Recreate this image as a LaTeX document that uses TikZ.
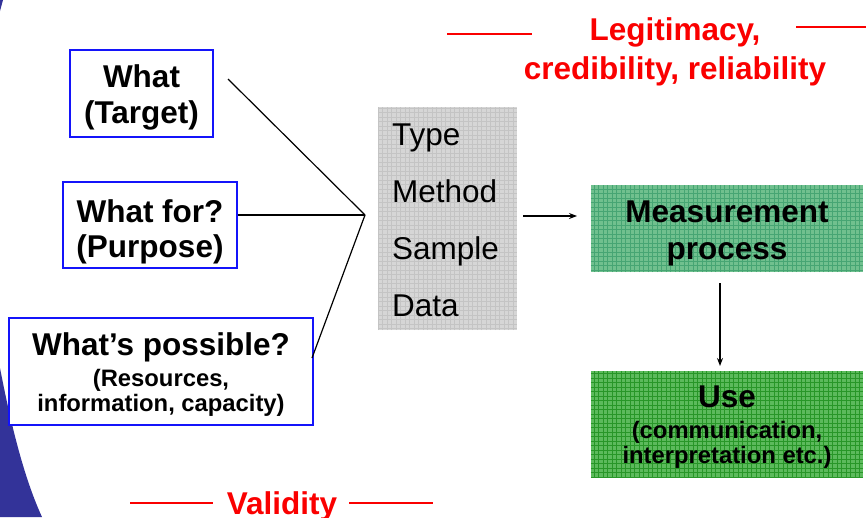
\documentclass[tikz,border=0pt]{standalone}
\usepackage{fontspec}
\setmainfont{Liberation Sans}
\usetikzlibrary{arrows.meta}
\definecolor{edgeblue}{RGB}{20,20,250}
\definecolor{cornerblue}{RGB}{51,51,153}
\definecolor{redtxt}{RGB}{250,0,0}
\definecolor{grayfill}{RGB}{214,214,214}
\definecolor{graygrid}{RGB}{196,196,196}
\definecolor{mgreen}{RGB}{112,192,142}
\definecolor{mgreengrid}{RGB}{70,165,115}
\definecolor{ugreen}{RGB}{92,186,92}
\definecolor{ugreengrid}{RGB}{40,150,40}
\newcommand{\bigtxt}{\fontsize{31.5}{36}\selectfont\bfseries}
\newcommand{\regtxt}{\fontsize{31.5}{36}\selectfont}
\newcommand{\smalltxt}{\fontsize{23.8}{27}\selectfont\bfseries}
\tikzset{
  qbox/.style={draw=edgeblue, line width=1.5pt, fill=white, inner sep=0pt},
  lbl/.style={anchor=base, inner sep=0pt},
  conn/.style={line width=1.2pt, black},
  arr/.style={line width=1.2pt, black, -{Stealth[length=8pt,width=6pt]}},
  redline/.style={draw=redtxt, line width=1.8pt},
  redlbl/.style={anchor=base, inner sep=0pt, text=redtxt, font=\bigtxt},
}
\begin{document}
\begin{tikzpicture}[x=1pt,y=-1pt]
\useasboundingbox (0,0) rectangle (866,517);
\fill[white] (0,0) rectangle (866,517);
% corner decoration
\fill[cornerblue] (0,368) .. controls (12,430) and (25,480) .. (42,517) -- (0,517) -- cycle;
\fill[cornerblue] (0,0) -- (3,0) .. controls (2,5) .. (0,11) -- cycle;

% question boxes
\node[qbox, minimum width=143pt, minimum height=87pt] (target) at (141.5,93.5) {};
\node[lbl, font=\bigtxt] (targetA) at (141.5,87) {What};
\node[lbl, font=\bigtxt] (targetB) at (141.5,123) {(Target)};

\node[qbox, minimum width=174pt, minimum height=86pt] (purpose) at (150,225) {};
\node[lbl, font=\bigtxt] (purposeA) at (150,222) {What for?};
\node[lbl, font=\bigtxt] (purposeB) at (150,257) {(Purpose)};

\node[qbox, minimum width=304pt, minimum height=107pt] (possible) at (161,371.5) {};
\node[lbl, font=\bigtxt] (possibleA) at (161,355) {What’s possible?};
\node[lbl, font=\smalltxt] (possibleB) at (161,386) {(Resources,};
\node[lbl, font=\smalltxt] (possibleC) at (161,411) {information, capacity)};

% connectors to hub
\coordinate (hub) at (365,215);
\coordinate (t1) at (228,79);
\coordinate (t3) at (312,358);
\draw[conn] (t1) -- (hub);
\draw[conn] (purpose.east |- hub) -- (hub);
\draw[conn] (t3) -- (hub);

% gray box
\node[fill=grayfill, minimum width=139pt, minimum height=223pt, inner sep=0pt] (aspects) at (447.5,218.5) {};
\begin{scope}
\clip (aspects.north west) rectangle (aspects.south east);
\draw[graygrid, line width=0.6pt, step=4.5pt] (aspects.south west) grid (aspects.north east);
\end{scope}
\node[anchor=base west, inner sep=0pt, font=\regtxt] (type) at (392,145) {Type};
\node[anchor=base west, inner sep=0pt, font=\regtxt] (method) at (392,202) {Method};
\node[anchor=base west, inner sep=0pt, font=\regtxt] (sample) at (392,259) {Sample};
\node[anchor=base west, inner sep=0pt, font=\regtxt] (data) at (392,316) {Data};

% measurement process box
\node[fill=mgreen, minimum width=272pt, minimum height=87pt, inner sep=0pt] (meas) at (727,228.5) {};
\begin{scope}
\clip (meas.north west) rectangle (meas.south east);
\draw[mgreengrid, line width=0.7pt, step=4.5pt] (meas.south west) grid (meas.north east);
\end{scope}
\node[lbl, font=\bigtxt] (measA) at (727,222) {Measurement};
\node[lbl, font=\bigtxt] (measB) at (727,259) {process};

% use box
\node[fill=ugreen, minimum width=272pt, minimum height=106pt, inner sep=0pt] (use) at (727,424) {};
\begin{scope}
\clip (use.north west) rectangle (use.south east);
\draw[ugreengrid, line width=0.8pt, step=4.5pt] (use.south west) grid (use.north east);
\end{scope}
\node[lbl, font=\bigtxt] (useA) at (727,407) {Use};
\node[lbl, font=\smalltxt] (useB) at (727,438) {(communication,};
\node[lbl, font=\smalltxt] (useC) at (727,463) {interpretation etc.)};

% arrows
\coordinate (a1s) at (523,216);
\coordinate (a1e) at (577,216);
\draw[arr] (a1s) -- (a1e);
\coordinate (a2s) at (720,283);
\coordinate (a2e) at (720,366);
\draw[arr] (a2s) -- (a2e);

% red labels
\node[redlbl] (legit) at (675,40) {Legitimacy,};
\node[redlbl] (cred) at (675,79) {credibility, reliability};
\coordinate (r1a) at (447,34); \coordinate (r1b) at (532,34);
\coordinate (r2a) at (796,27); \coordinate (r2b) at (866,27);
\draw[redline] (r1a) -- (r1b);
\draw[redline] (r2a) -- (r2b);

\node[redlbl] (valid) at (282,514) {Validity};
\coordinate (v1a) at (130,503); \coordinate (v1b) at (213,503);
\coordinate (v2a) at (349,503); \coordinate (v2b) at (433,503);
\draw[redline] (v1a) -- (v1b);
\draw[redline] (v2a) -- (v2b);
\end{tikzpicture}
\end{document}
